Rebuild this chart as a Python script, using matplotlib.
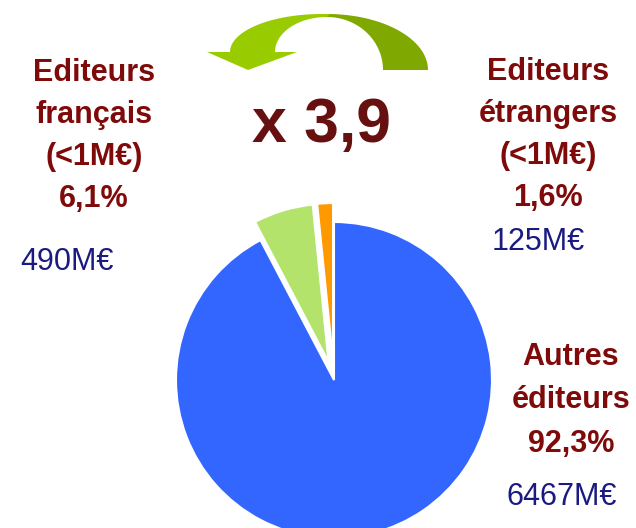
import numpy as np
import matplotlib
matplotlib.use("Agg")
import matplotlib.pyplot as plt
from matplotlib.patches import Polygon

plt.rcParams['font.family'] = ['Liberation Sans', 'DejaVu Sans']

# data
labels = ["Autres\néditeurs", "Editeurs\nfrançais\n(<1M€)", "Editeurs\nétrangers\n(<1M€)"]
shares = [92.3, 6.1, 1.6]
amounts = ["6467M€", "490M€", "125M€"]
ratio = "x 3,9"
colors = ["#3366ff", "#b3e36a", "#ff9900"]
explode = [0, 0.12, 0.12]

W, H = 636, 528
fig = plt.figure(figsize=(W / 100, H / 100), dpi=100)
ax = fig.add_axes([0, 0, 1, 1])

R = 158
ax.pie(shares, colors=colors, explode=[e * R for e in explode], startangle=90,
       counterclock=False, center=(334, H - 380), radius=R,
       wedgeprops=dict(edgecolor="white", linewidth=1.5))
ax.set_xlim(0, W)
ax.set_ylim(0, H)
ax.axis("off")

dark_red = "#7f0a0a"
navy = "#1a1a80"


def pct(v):
    return ("%.1f%%" % v).replace(".", ",")


def label(x, y, name, share, step=42):
    # one text per line, y = baseline of first line (image coords)
    for i, line in enumerate((name + "\n" + pct(share)).split("\n")):
        ax.text(x, H - (y + i * step), line, ha="center", va="baseline",
                fontsize=22, fontweight="bold", color=dark_red)


label(94, 81, labels[1], shares[1])
label(548, 80, labels[2], shares[2])
label(571, 365, labels[0], shares[0], step=43.5)

ax.text(20, H - 270, amounts[1], ha="left", va="baseline", fontsize=22, color=navy)
ax.text(492, H - 250, amounts[2], ha="left", va="baseline", fontsize=22, color=navy)
ax.text(506, H - 505, amounts[0], ha="left", va="baseline", fontsize=22, color=navy)

ax.text(322, H - 142, ratio, ha="center", va="baseline", fontsize=45,
        fontweight="bold", color="#661010")


# curved arrow (image coords, y flipped)
def arc(cx, cy, a, b, t0, t1, n=60):
    t = np.radians(np.linspace(t0, t1, n))
    return np.column_stack([cx + a * np.cos(t), H - (cy - b * np.sin(t))])


outer = arc(327, 70, 101, 56, 0, 90)
inner = arc(327, 70, 56, 53, 90, 0)
ax.add_patch(Polygon(np.vstack([outer, inner]), closed=True,
                     facecolor="#7fa800", edgecolor="none"))

outer = arc(322, 52, 92, 38, 180, 85)
inner = arc(327, 52, 52, 35, 90, 180)
head = np.array([[297, H - 52], [248, H - 70], [207, H - 52]])
ax.add_patch(Polygon(np.vstack([outer, inner, head]), closed=True,
                     facecolor="#99cc00", edgecolor="none"))

fig.savefig("out.png", dpi=100)
